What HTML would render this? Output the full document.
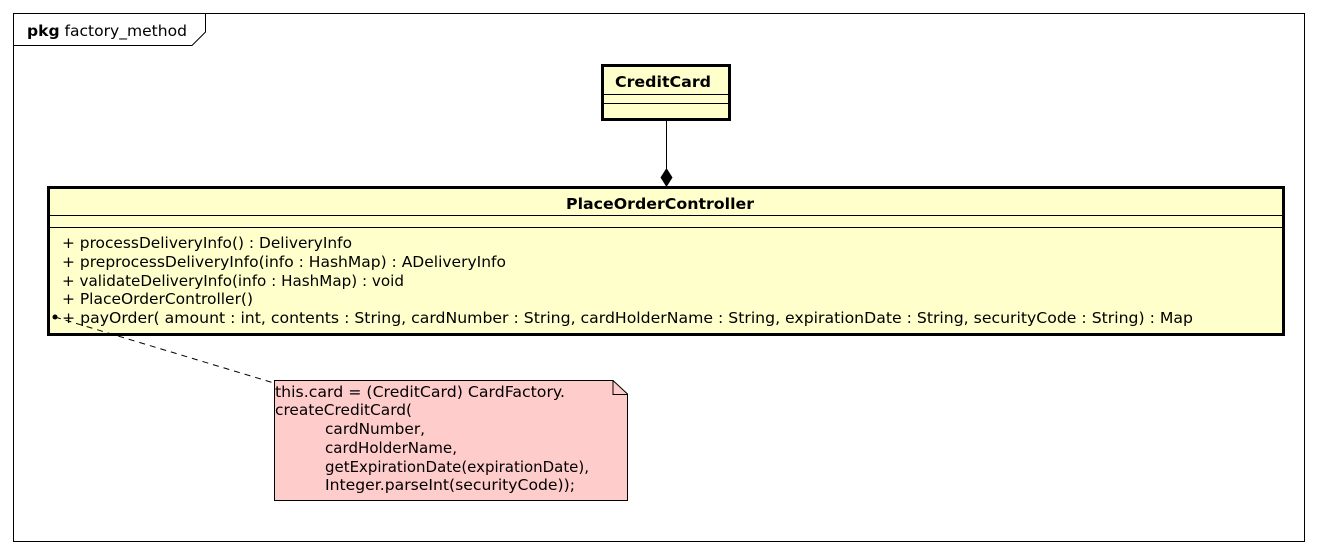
<!DOCTYPE html>
<html><head><style>
body{margin:0;background:#fff;}
svg text{font-family:"DejaVu Sans",sans-serif;font-size:15px;fill:#000;}
</style></head><body>
<svg width="1317" height="554" xmlns="http://www.w3.org/2000/svg">
<rect x="13.5" y="13.5" width="1291" height="528" fill="#fff" stroke="#000" stroke-width="1"/>
<path d="M13.5 45.5 H192 L205.5 32 V13.5" fill="none" stroke="#000"/>
<text x="27" y="36" textLength="160" lengthAdjust="spacingAndGlyphs"><tspan font-weight="bold">pkg</tspan> factory_method</text>

<rect x="602.5" y="65.5" width="127" height="54" fill="#ffffcc" stroke="#000" stroke-width="3"/>
<line x1="602" y1="94.5" x2="730" y2="94.5" stroke="#000"/>
<line x1="602" y1="103.5" x2="730" y2="103.5" stroke="#000"/>
<text x="615" y="87" textLength="96" lengthAdjust="spacingAndGlyphs" font-weight="bold">CreditCard</text>

<line x1="666.5" y1="121" x2="666.5" y2="170" stroke="#000"/>
<polygon points="666.5,168 672.5,177.5 666.5,187 660.5,177.5" fill="#000"/>

<rect x="48.5" y="187.5" width="1235" height="147" fill="#ffffcc" stroke="#000" stroke-width="3"/>
<line x1="48" y1="215.5" x2="1284" y2="215.5" stroke="#000"/>
<line x1="48" y1="227.5" x2="1284" y2="227.5" stroke="#000"/>
<text x="566" y="209" textLength="188" lengthAdjust="spacingAndGlyphs" font-weight="bold">PlaceOrderController</text>
<text x="62" y="248" textLength="290" lengthAdjust="spacingAndGlyphs">+ processDeliveryInfo() : DeliveryInfo</text>
<text x="62" y="267" textLength="444" lengthAdjust="spacingAndGlyphs">+ preprocessDeliveryInfo(info : HashMap) : ADeliveryInfo</text>
<text x="62" y="286" textLength="342" lengthAdjust="spacingAndGlyphs">+ validateDeliveryInfo(info : HashMap) : void</text>
<text x="62" y="304" textLength="191" lengthAdjust="spacingAndGlyphs">+ PlaceOrderController()</text>
<text x="62" y="323" textLength="1131" lengthAdjust="spacingAndGlyphs">+ payOrder( amount : int, contents : String,  cardNumber : String, cardHolderName : String,  expirationDate : String,  securityCode : String) : Map</text>
<circle cx="55" cy="317" r="2.5" fill="#000"/>
<line x1="55" y1="317" x2="274" y2="383" stroke="#000" stroke-dasharray="6,5"/>

<path d="M274.5 380.5 H613 L627.5 394 V500.5 H274.5 Z" fill="#ffcccc" stroke="#000"/>
<path d="M613 380.5 V394.5 H627.5" fill="none" stroke="#000"/>
<text x="275" y="397" textLength="290" lengthAdjust="spacingAndGlyphs">this.card = (CreditCard) CardFactory.</text>
<text x="275" y="415" textLength="137" lengthAdjust="spacingAndGlyphs">createCreditCard(</text>
<text x="325" y="434" textLength="100" lengthAdjust="spacingAndGlyphs">cardNumber,</text>
<text x="325" y="453" textLength="132" lengthAdjust="spacingAndGlyphs">cardHolderName,</text>
<text x="325" y="472" textLength="264" lengthAdjust="spacingAndGlyphs">getExpirationDate(expirationDate),</text>
<text x="325" y="490" textLength="250" lengthAdjust="spacingAndGlyphs">Integer.parseInt(securityCode));</text>
</svg>
</body></html>
